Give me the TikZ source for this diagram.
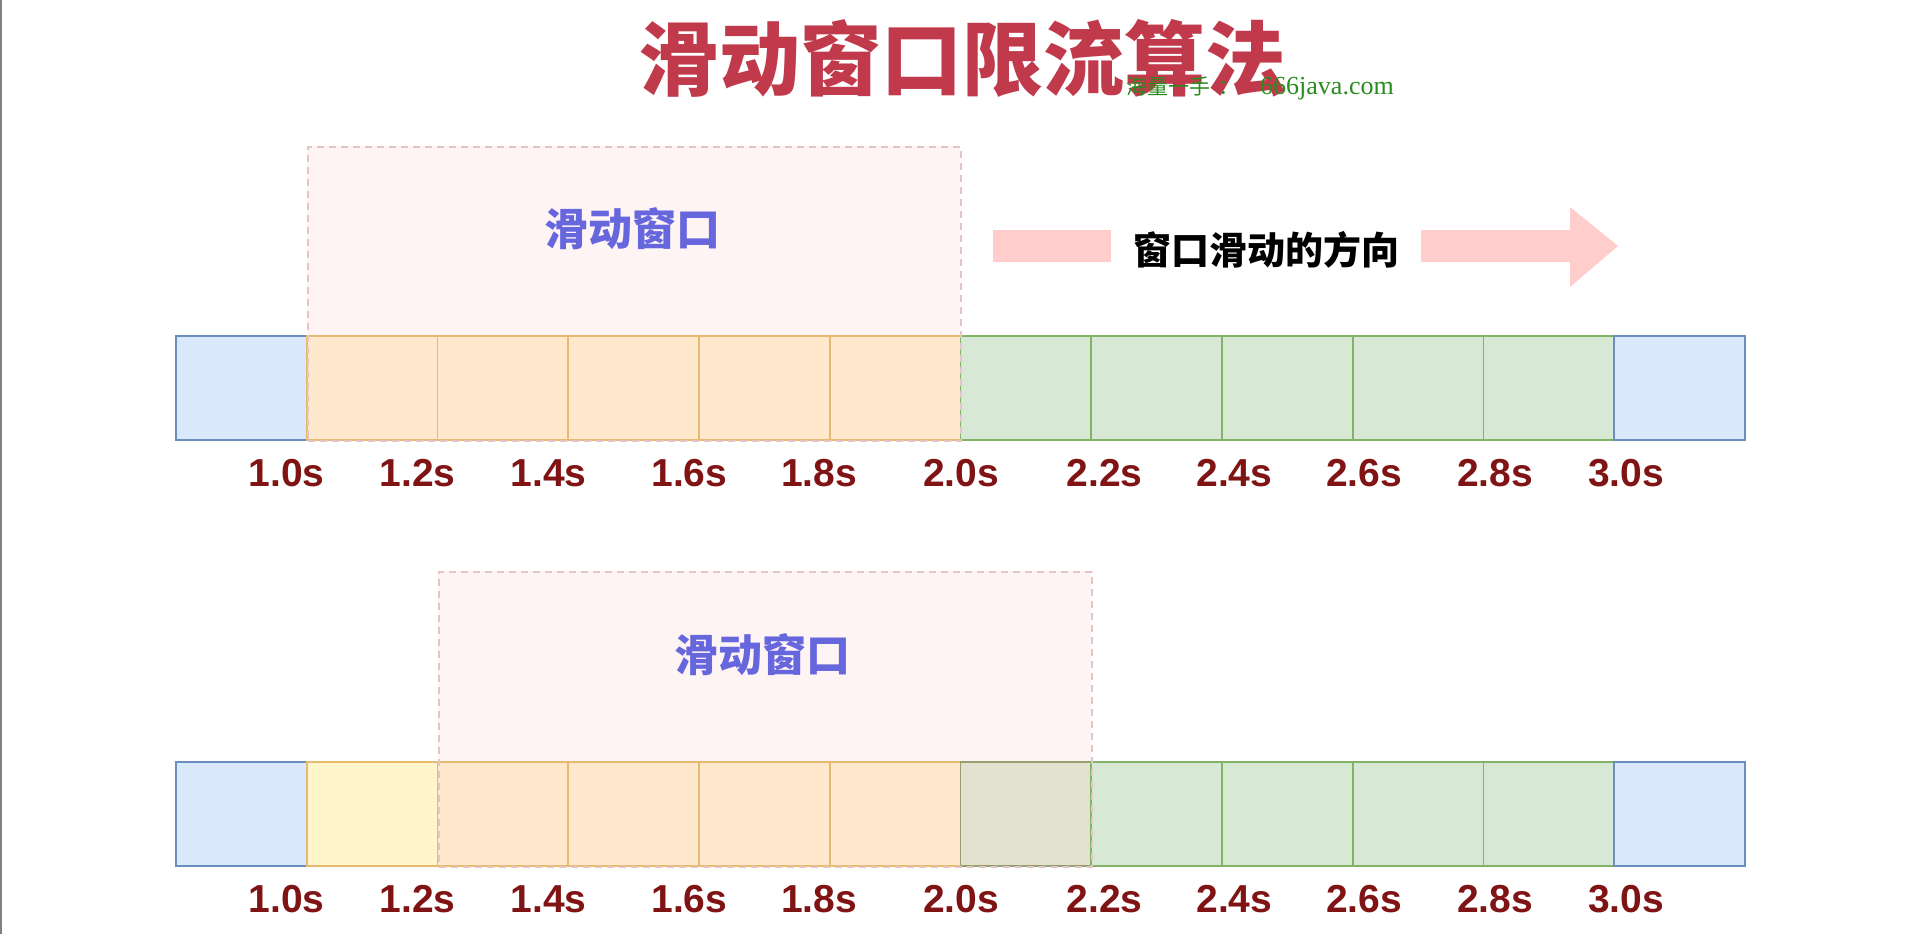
\documentclass[tikz,border=0pt]{standalone}
\usepackage{fontspec}
\setmainfont{Liberation Sans}
\newfontfamily\cjk{Noto Sans CJK SC}
\newfontfamily\wmserif{Liberation Serif}
\definecolor{titlered}{RGB}{192,58,75}
\definecolor{wmgreen}{RGB}{40,140,30}
\definecolor{winblue}{RGB}{102,102,221}
\definecolor{lblred}{RGB}{128,20,20}
\definecolor{arrowpink}{RGB}{255,205,204}
\definecolor{winfill}{RGB}{255,244,244}
\definecolor{windash}{RGB}{228,196,198}
\definecolor{bluefill}{RGB}{218,232,252}
\definecolor{bluedraw}{RGB}{108,142,191}
\definecolor{orangefill}{RGB}{255,232,204}
\definecolor{orangedraw}{RGB}{230,186,112}
\definecolor{greenfill}{RGB}{215,233,212}
\definecolor{greendraw}{RGB}{130,179,102}
\definecolor{yellowfill}{RGB}{255,246,204}
\definecolor{grayfill}{RGB}{227,226,208}
\definecolor{graydraw}{RGB}{150,160,110}
\tikzset{
  cell/.style={draw, line width=1.6pt, minimum width=130.75pt, minimum height=104pt, anchor=north west, inner sep=0pt, outer sep=0pt},
  bluec/.style={cell, fill=bluefill, draw=bluedraw},
  orangec/.style={cell, fill=orangefill, draw=orangedraw},
  greenc/.style={cell, fill=greenfill, draw=greendraw},
  yellowc/.style={cell, fill=yellowfill, draw=orangedraw},
  grayc/.style={cell, fill=grayfill, draw=graydraw},
  tick/.style={font=\fontsize{39}{39}\selectfont\bfseries, text=lblred, inner sep=0pt},
  winbox/.style={draw=windash, dashed, dash pattern=on 7pt off 5pt, line width=1.6pt, anchor=north west, inner sep=0pt, minimum width=653pt, minimum height=294pt},
  winlabel/.style={font=\cjk\bfseries\fontsize{44}{44}\selectfont, text=winblue, inner sep=0pt},
}
\begin{document}
\begin{tikzpicture}[x=1pt,y=-1pt]
\useasboundingbox (0,0) rectangle (1920,934);
\fill[white] (0,0) rectangle (1920,934);
\draw[gray, line width=2pt] (1,0) -- (1,934);

% title
\node[font=\cjk\bfseries\fontsize{81}{81}\selectfont, text=titlered, inner sep=0pt] (title) at (962,58) {滑动窗口限流算法};
\node[anchor=base west, text=wmgreen, inner sep=0pt, font=\cjk\fontsize{21}{21}\selectfont] (wm1) at (1126,95) {海量一手\hspace{8pt}：};
\node[anchor=base west, text=wmgreen, inner sep=0pt, font=\wmserif\fontsize{26}{26}\selectfont] (wm2) at (1260,95) {666java.com};

% ---- row 1 ----
\fill[winfill] (307,146) rectangle (960,440);
\foreach \i/\st in {0/bluec,1/orangec,2/orangec,3/orangec,4/orangec,5/orangec,6/greenc,7/greenc,8/greenc,9/greenc,10/greenc,11/bluec}
  \node[\st] (ra\i) at ({176+\i*130.75},336) {};
\node[winbox] (wa) at (307,146) {};
\node[winlabel] (wla) at (632,229) {滑动窗口};

% direction arrow
\coordinate (arrS) at (993,246);
\coordinate (arrE) at (1618,246);
\fill[arrowpink] (993,230) -- (1570,230) -- (1570,207) -- (arrE) -- (1570,287) -- (1570,262) -- (993,262) -- cycle;
\node[fill=white, font=\cjk\bfseries\fontsize{38}{38}\selectfont, inner xsep=22pt, inner ysep=4pt] (dir) at (1266,250) {窗口滑动的方向};

% ---- row 2 ----
\fill[winfill] (438,571) rectangle (1091,866);
\foreach \i/\st in {0/bluec,1/yellowc,2/orangec,3/orangec,4/orangec,5/orangec,6/grayc,7/greenc,8/greenc,9/greenc,10/greenc,11/bluec}
  \node[\st] (rb\i) at ({176+\i*130.75},762) {};
\node[winbox, minimum height=295pt] (wb) at (438,571) {};
\node[winlabel] (wlb) at (762,655) {滑动窗口};

% labels
\foreach \x/\t [count=\k] in {286.5/1.0s,417.5/1.2s,548.6/1.4s,689.4/1.6s,819.2/1.8s,961.2/2.0s,1104.5/2.2s,1234.3/2.4s,1364.1/2.6s,1495.1/2.8s,1626.1/3.0s}{
  \node[tick] (la\k) at (\x,473) {\t};
  \node[tick] (lb\k) at (\x,899) {\t};
}
\end{tikzpicture}
\end{document}
